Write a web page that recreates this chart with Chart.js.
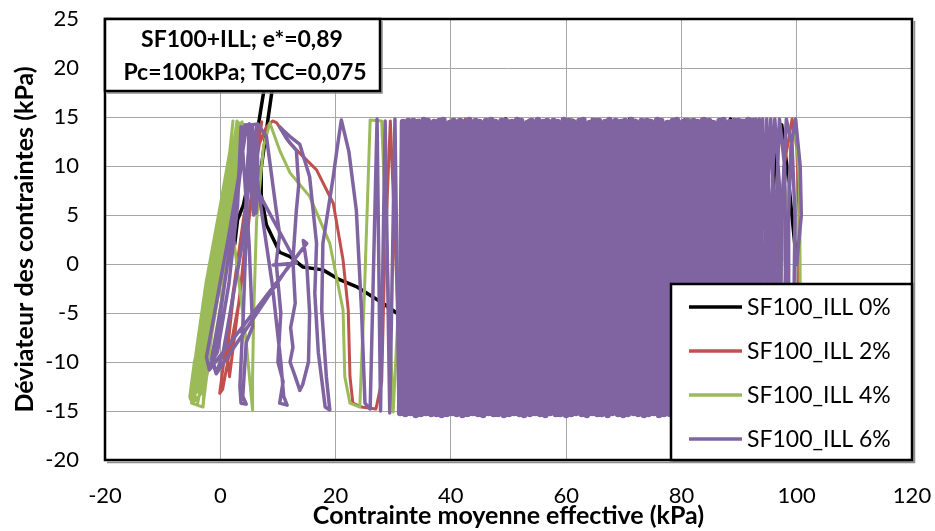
<!DOCTYPE html>
<html><head><meta charset="utf-8">
<script src="https://cdn.jsdelivr.net/npm/chart.js@4.4.1/dist/chart.umd.min.js"></script>
<style>html,body{margin:0;padding:0;background:#fff;}canvas{display:block;}</style>
</head><body>
<canvas id="c" width="935" height="531"></canvas>
<script>
// ---------- DATA (p' = contrainte moyenne effective, q = déviateur), kPa ----------
const seriesNames = ['SF100_ILL 0%', 'SF100_ILL 2%', 'SF100_ILL 4%', 'SF100_ILL 6%'];
const seriesColors = ['#000000', '#c0504d', '#9bbb59', '#8064a2'];
const xTicks = [-20, 0, 20, 40, 60, 80, 100, 120];
const yTicks = [-20, -15, -10, -5, 0, 5, 10, 15, 20, 25];
const annotationLines = ['SF100+ILL; e*=0,89', 'Pc=100kPa; TCC=0,075'];

const blackP = [100.0, 98.5, 97.4, 96.4, 95.2, 94.6, 94.0, 91.5, 88.5, 84.0, 80.5, 75.5, 71.0, 65.0, 60.5, 54.0, 49.5, 44.0, 40.5, 37.0,
  35.5, 34.3, 33.0, 30.6, 28.2, 23.6, 20.7, 17.8, 14.3, 12.1, 10.3, 8.0, 7.1, 7.1, 8.3, 9.3, 10.0, 9.2, 8.5, 7.7,
  6.8, 5.5, 4.0, 3.0, 2.5];
const blackQ = [0.0, 9.0, 14.2, 12.3, -0.3, -9.0, -15.0, -14.8, 14.8, -15.1, 14.7, -15.1, 14.8, -15.2, 14.7, -15.1, 14.8, -15.2, 14.7, -14.9,
  -10.0, -6.7, -5.9, -5.0, -4.0, -2.3, -1.6, -0.6, -0.3, 0.75, 1.2, 4.0, 7.0, 9.8, 14.9, 19.0, 23.0, 24.0, 22.0, 18.2,
  14.9, 10.0, 6.0, 4.5, 2.0];

const redP = [100.3, 100.4, 100.0, 99.2, 97.8, 97.0, 96.4, 93.0, 90.5, 87.0, 83.5, 79.0, 74.5, 69.0, 64.5, 58.0, 53.5, 47.0, 42.5, 38.0,
  34.5, 31.5, 29.5, 28.5, 28.0, 27.0, 24.5, 23.0, 22.5, 22.2, 21.3, 19.6, 16.7, 13.3, 12.1, 9.8, 9.1, 8.0, 6.8, 5.6,
  4.5, 3.3, 1.6, 0.4, -0.1, 0.6, 2.2, 4.0, 5.5, 6.6, 7.2, 6.0, 4.8, 3.2, 1.6, 1.2, 2.5, 4.5];
const redQ = [-3.0, 5.0, 12.0, 14.8, 10.0, 0.0, -15.0, -14.9, 14.7, -15.1, 14.8, -15.0, 14.7, -15.2, 14.8, -15.1, 14.7, -15.2, 14.8, -15.0,
  14.7, -15.1, 14.6, 0.0, -12.0, -14.8, -14.6, -14.2, -11.5, -4.7, 0.4, 6.2, 9.6, 11.6, 12.3, 14.4, 14.6, 14.0, 12.3, 8.0,
  3.2, -3.7, -9.0, -12.8, -13.2, -10.0, -3.0, 4.5, 10.0, 13.5, 14.5, 10.0, 3.5, -4.0, -11.5, -9.0, -2.0, 4.5];

const greenP = [100.6, 100.5, 99.8, 98.0, 97.0, 96.0, 91.0, 86.5, 81.5, 77.0, 72.0, 66.5, 61.0, 55.5, 50.0, 45.0, 40.0, 36.0, 32.5, 30.0,
  28.0, 26.0, 25.0, 24.2, 22.5, 21.6, 21.3, 19.0, 15.5, 12.1, 10.3, 8.6, 7.5, 6.3, 5.8, 5.6, 5.6, 4.5, 2.2, 3.0,
  3.4, 1.0, -2.0, -5.3, -4.5, 0.0, 2.5, 3.0, 0.5, -2.4, -4.5, -3.8, -1.0, 2.0, 3.8, 1.5, -1.0, -3.0, -2.5, 0.0,
  3.0, 4.0, 2.0, -0.5, -3.0, -4.8, -2.0, 1.5, 3.6, 2.5, 0.0, -2.0, -3.0, -5.0, -4.2, -2.5, 0.0, 1.8, 2.2, 1.2,
  -1.5, -3.5, -5.2, -4.0, -2.0, 0.5, 2.5, 2.9, 1.8, -0.5, -2.8, -4.0, -3.2, -1.2, 1.0, 3.2, 3.9, 2.6,
  0.3, -1.8, -3.6, -2.2, -0.2, 2.0, 3.4];
const greenQ = [-2.0, 8.0, 14.8, 5.0, -5.0, -15.0, 14.7, -15.1, 14.8, -15.0, 14.7, -15.2, 14.8, -15.1, 14.7, -15.2, 14.8, -15.0, 14.7, -15.1,
  14.6, 14.7, -3.0, -14.6, -14.2, -11.5, -4.7, 2.1, 6.9, 9.3, 11.6, 14.4, 12.0, 4.5, -5.0, -11.5, -14.9, -8.0, 3.2, 10.0,
  14.4, 4.0, -6.0, -13.6, -10.0, 2.0, 12.0, 14.5, 6.0, -4.0, -14.0, -10.0, 0.0, 10.0, 14.5, 6.0, -5.0, -14.5, -10.0, -1.0,
  11.0, 14.0, 5.0, -7.0, -13.0, -14.2, -5.0, 7.0, 14.3, 8.0, -2.0, -9.0, -14.6, -14.2, -9.0, -2.0, 6.0, 12.0, 14.6, 9.0,
  0.0, -8.0, -13.8, -13.0, -5.0, 4.0, 13.0, 14.6, 8.0, -2.0, -11.0, -14.4, -12.0, -4.0, 5.0, 12.5, 14.3, 9.0,
  1.0, -6.0, -12.5, -8.0, -1.0, 7.0, 12.0];

// 6% : dense central cycles (turning points at top / bottom of each cycle)
const purpleDenseTopP = [92.4, 91.6, 90.7, 89.9, 89.2, 88.4, 87.3, 86.6, 85.5, 84.8, 83.9, 82.8, 82.1, 81.0,
  80.3, 79.2, 78.5, 77.6, 76.5, 75.8, 74.7, 74.0, 73.1, 72.0,
  71.3, 70.2, 69.5, 68.6, 67.5, 66.8, 65.7, 65.0, 64.1, 63.0,
  62.3, 61.2, 60.5, 59.6, 58.5, 57.8, 56.7, 56.0, 55.1, 54.0,
  53.3, 52.2, 51.5, 50.6, 49.5, 48.8, 47.7, 47.0, 46.1, 45.0,
  44.3, 43.2, 42.5, 41.6, 40.5, 39.8, 38.7, 38.0, 37.1, 36.0,
  35.3, 34.2, 33.5, 32.6, 31.7];
const purpleDenseTopQ = [14.6, 14.7, 14.5, 14.6, 14.6, 14.5, 14.7, 14.6, 14.4, 14.6, 14.7, 14.5, 14.6, 14.6,
  14.5, 14.7, 14.6, 14.4, 14.6, 14.7, 14.5, 14.6, 14.6, 14.5,
  14.7, 14.6, 14.5, 14.6, 14.7, 14.5, 14.6, 14.6, 14.4, 14.7,
  14.6, 14.5, 14.6, 14.7, 14.5, 14.6, 14.6, 14.5, 14.7, 14.6,
  14.4, 14.6, 14.7, 14.5, 14.6, 14.6, 14.5, 14.7, 14.6, 14.5,
  14.6, 14.7, 14.5, 14.6, 14.6, 14.4, 14.7, 14.6, 14.5, 14.6,
  14.7, 14.5, 14.6, 14.6, 14.5];
const purpleDenseBotP = [92.0, 91.1, 90.3, 89.5, 88.7, 87.9, 86.8, 86.0, 85.1, 84.2, 83.3, 82.4, 81.5, 80.6,
  79.8, 78.7, 78.0, 77.0, 76.1, 75.2, 74.3, 73.5, 72.5, 71.7,
  70.7, 69.9, 69.0, 68.0, 67.2, 66.2, 65.4, 64.5, 63.6, 62.7,
  61.7, 60.9, 60.0, 59.0, 58.2, 57.2, 56.4, 55.5, 54.6, 53.7,
  52.7, 51.9, 51.0, 50.1, 49.2, 48.2, 47.4, 46.5, 45.6, 44.7,
  43.8, 42.9, 42.0, 41.0, 40.2, 39.3, 38.4, 37.5, 36.6, 35.7,
  34.8, 33.9, 33.0, 32.1, 31.2];
const purpleDenseBotQ = [-15.3, -15.2, -15.4, -15.3, -15.3, -15.4, -15.2, -15.3, -15.4, -15.3, -15.2, -15.4, -15.3, -15.3,
  -15.4, -15.2, -15.3, -15.3, -15.4, -15.2, -15.3, -15.4, -15.3, -15.2,
  -15.3, -15.4, -15.3, -15.2, -15.4, -15.3, -15.3, -15.2, -15.4, -15.3,
  -15.2, -15.3, -15.4, -15.3, -15.3, -15.2, -15.4, -15.3, -15.2, -15.3,
  -15.4, -15.3, -15.2, -15.3, -15.4, -15.3, -15.3, -15.2, -15.4, -15.3,
  -15.2, -15.3, -15.4, -15.3, -15.2, -15.3, -15.4, -15.3, -15.3, -15.2,
  -15.3, -15.4, -15.2, -15.3, -15.2];

// 6% : first cycles (right) and last cycles (left); null = break in the trace
const purpleP = [100.0, 100.8, 100.6, 99.8, 99.0, 98.6, 98.6, 98.8, 97.6, 97.2,
  97.4, 98.2, 99.2, 99.7, 99.5, 98.0, 96.6, 96.4, 97.0, 97.9,
  98.1, 97.2, 95.8, 95.6, 96.2, 97.0, 96.9, 96.3, 95.0, 94.9,
  95.5, 96.1, 95.6, 94.4, 94.8, 95.3, 94.9, 93.8, 94.1, 94.6,
  94.2, 93.2, 93.5, 93.9, 93.5, 92.8, 92.9,
  null,
  31.0, 30.3, 29.4, 28.6, 27.8, 27.2, 26.0, 25.1, 24.5, 23.6,
  22.3, 21.0, 20.2, 19.6, 17.8, 17.6, 18.4, 19.0, 18.2, 17.0,
  16.4, 16.7, 15.5, 13.8, 12.1, 11.0, 10.3, 11.5, 13.2, 13.6,
  13.2, 12.6, 13.0, 12.2, 12.6, 12.1, 13.0, 13.8, 14.3, 15.3,
  15.5, 15.0, 14.4, 15.0, -1.9, -2.4, -1.0, 1.5, 3.5, 4.6,
  5.0, 5.2, 5.8, 6.0, 5.6, 4.8, 4.5, 3.8, 2.0, 0.5,
  -0.7, -1.5, 0.5, 2.5, 4.0, 4.3, 5.6, 5.8, 6.2, 6.5,
  6.3, 5.7, 13.2, 9.2, 12.1, -0.7, -1.2, 1.0, 3.0, 4.4,
  6.5, 8.0, 9.7, 10.3, 9.7, 10.5, 10.0, 10.9, 10.3, 11.6,
  11.0, 10.5, 9.0, 7.0, 5.5, 5.0, 4.6, 4.0, 3.4, 3.6,
  4.5, 3.9, 4.5, 5.6, 5.0, 4.2, 3.6, 3.0, 1.5, -0.5,
  -2.0];
const purpleQ = [0.0, 5.0, 10.0, 14.8, 12.0, 5.0, -5.0, -15.3, -12.0, -5.0,
  5.0, 14.8, 12.0, 5.0, -5.0, -15.3, -8.0, 5.0, 14.8, 10.0,
  0.0, -15.3, -5.0, 5.0, 14.8, 8.0, -5.0, -15.3, -5.0, 5.0,
  14.8, 5.0, -15.3, 0.0, 14.8, 3.0, -15.3, 0.0, 14.8, 0.0,
  -15.3, 0.0, 14.8, 0.0, -15.3, 0.0, 14.8,
  null,
  -15.2, 14.8, -15.2, 14.6, -15.0, 14.8, -14.8, -14.2, -4.7, 5.5,
  11.5, 14.7, 11.5, 8.9, 2.1, -4.7, -11.5, -14.9, -14.6, -9.0,
  -3.0, 2.1, 8.9, 12.2, 13.0, 13.6, 14.0, 12.8, 11.6, 8.0,
  5.5, 0.4, -4.0, -6.5, -8.5, -10.0, -11.5, -12.9, -12.3, -10.0,
  -5.0, 0.0, 2.4, 2.1, -10.8, -9.5, -5.0, 3.0, 10.0, 14.2,
  13.0, 8.0, 5.0, 9.0, 14.0, 11.0, 6.0, 2.0, -4.0, -9.0,
  -11.2, -9.7, -3.0, 5.0, 13.8, 14.2, 12.0, 6.0, 5.2, 10.0,
  14.0, 8.3, 0.1, -0.1, 0.0, -11.2, -10.0, -1.0, 7.0, 14.1,
  14.3, 13.0, 5.5, 3.0, 0.1, -5.0, -10.0, -12.0, -14.2, -14.4,
  -13.5, -10.0, -2.0, 6.0, 13.0, 14.3, 5.0, -5.0, -12.5, -14.2,
  -14.3, -13.5, -8.0, -6.4, 2.0, 9.0, 14.0, 6.0, -2.0, -9.0,
  -10.5];

// ---------- build point tables from the arrays ----------
function pts(P, Q) {
  const n = Math.min(P.length, Q.length), out = [];
  for (let i = 0; i < n; i++) {
    if (P[i] === null || Q[i] === null) out.push({x: null, y: null});
    else out.push({x: P[i], y: Q[i]});
  }
  return out;
}
function cycles(tP, tQ, bP, bQ) {
  const n = Math.min(tP.length, tQ.length, bP.length, bQ.length), out = [];
  for (let i = 0; i < n; i++) { out.push({x: tP[i], y: tQ[i]}); out.push({x: bP[i], y: bQ[i]}); }
  return out;
}

const FONT = 'Lato, "Open Sans", sans-serif';
const base = {showLine: true, pointRadius: 0, pointHoverRadius: 0, fill: false, tension: 0,
  borderJoinStyle: 'round', borderCapStyle: 'round', spanGaps: false};

const datasets = [
  Object.assign({label: seriesNames[0], data: pts(blackP, blackQ), borderColor: seriesColors[0], borderWidth: 3.5, order: 4}, base),
  Object.assign({label: seriesNames[1], data: pts(redP, redQ), borderColor: seriesColors[1], borderWidth: 3, order: 3}, base),
  Object.assign({label: seriesNames[2], data: pts(greenP, greenQ), borderColor: seriesColors[2], borderWidth: 3, order: 2}, base),
  Object.assign({label: seriesNames[3], data: cycles(purpleDenseTopP, purpleDenseTopQ, purpleDenseBotP, purpleDenseBotQ),
    borderColor: seriesColors[3], borderWidth: 6.5, order: 1}, base),
  Object.assign({label: seriesNames[3], data: pts(purpleP, purpleQ), borderColor: seriesColors[3], borderWidth: 3.5, order: 0}, base)
];

const overlay = {
  id: 'overlay',
  afterDraw(chart) {
    const ctx = chart.ctx, a = chart.chartArea;
    ctx.save();
    // plot area frame with shadow
    ctx.strokeStyle = '#8c8c8c'; ctx.lineWidth = 1.5;
    ctx.beginPath(); ctx.moveTo(a.left + 2, a.bottom + 2.5); ctx.lineTo(a.right + 2.5, a.bottom + 2.5); ctx.lineTo(a.right + 2.5, a.top + 2); ctx.stroke();
    ctx.strokeStyle = '#000'; ctx.lineWidth = 2.5;
    ctx.strokeRect(a.left, a.top, a.right - a.left, a.bottom - a.top);

    // annotation box
    const bx = a.left, by = a.top, bw = 275, bh = 72;
    ctx.fillStyle = '#fff'; ctx.fillRect(bx, by, bw, bh);
    ctx.strokeStyle = '#8c8c8c'; ctx.lineWidth = 1.5;
    ctx.beginPath(); ctx.moveTo(bx + 2, by + bh + 2); ctx.lineTo(bx + bw + 2, by + bh + 2); ctx.lineTo(bx + bw + 2, by + 2); ctx.stroke();
    ctx.strokeStyle = '#000'; ctx.lineWidth = 2.5; ctx.strokeRect(bx, by, bw, bh);
    ctx.fillStyle = '#000'; ctx.font = 'bold 23px ' + FONT; ctx.textAlign = 'center'; ctx.textBaseline = 'middle';
    ctx.fillText(annotationLines[0], bx + 137, by + 21);
    ctx.fillText(annotationLines[1], bx + 140, by + 54);

    // legend box
    const lx = a.right - 241, ly = a.bottom - 176, lw = 241, lh = 176;
    ctx.fillStyle = '#fff'; ctx.fillRect(lx, ly, lw, lh);
    ctx.strokeStyle = '#8c8c8c'; ctx.lineWidth = 1.5;
    ctx.beginPath(); ctx.moveTo(lx + 2, ly + lh + 2); ctx.lineTo(lx + lw + 2, ly + lh + 2); ctx.stroke();
    ctx.strokeStyle = '#000'; ctx.lineWidth = 2.5; ctx.strokeRect(lx, ly, lw, lh);
    ctx.font = '23px ' + FONT; ctx.textAlign = 'left'; ctx.textBaseline = 'middle';
    for (let i = 0; i < seriesNames.length; i++) {
      const yy = ly + 23 + i * 44;
      ctx.strokeStyle = seriesColors[i]; ctx.lineWidth = 3.5; ctx.lineCap = 'butt';
      ctx.beginPath(); ctx.moveTo(lx + 18, yy); ctx.lineTo(lx + 71, yy); ctx.stroke();
      ctx.fillStyle = '#000'; ctx.fillText(seriesNames[i], lx + 76, yy + 1);
    }
    ctx.restore();
  }
};

new Chart(document.getElementById('c'), {
  type: 'scatter',
  data: {datasets},
  options: {
    responsive: false, animation: false, devicePixelRatio: 1,
    layout: {padding: {left: 0, right: 23, top: 19, bottom: 0}},
    plugins: {legend: {display: false}, tooltip: {enabled: false}},
    scales: {
      x: {
        type: 'linear', min: xTicks[0], max: xTicks[xTicks.length - 1],
        afterBuildTicks(s) { s.ticks = xTicks.map(v => ({value: v})); },
        afterFit(s) { s.height = 71; s.paddingLeft = 0; s.paddingRight = 0; },
        ticks: {font: {family: FONT, size: 22}, color: '#000', padding: 23, maxRotation: 0},
        grid: {color: '#a6a6a6', lineWidth: 1, drawTicks: false},
        border: {display: false},
        title: {display: true, text: 'Contrainte moyenne effective (kPa)', color: '#000',
          font: {family: FONT, size: 25, weight: 'bold'}, padding: {top: 0, bottom: 0}}
      },
      y: {
        type: 'linear', min: yTicks[0], max: yTicks[yTicks.length - 1],
        afterBuildTicks(s) { s.ticks = yTicks.map(v => ({value: v})); },
        afterFit(s) { s.width = 105; s.paddingTop = 0; s.paddingBottom = 0; },
        ticks: {font: {family: FONT, size: 22}, color: '#000', padding: 26},
        grid: {color: '#a6a6a6', lineWidth: 1, drawTicks: false},
        border: {display: false},
        title: {display: true, text: 'Déviateur des contraintes (kPa)', color: '#000',
          font: {family: FONT, size: 25, weight: 'bold'}, padding: {top: 10, bottom: 0}}
      }
    }
  },
  plugins: [overlay]
});
</script>
</body></html>
